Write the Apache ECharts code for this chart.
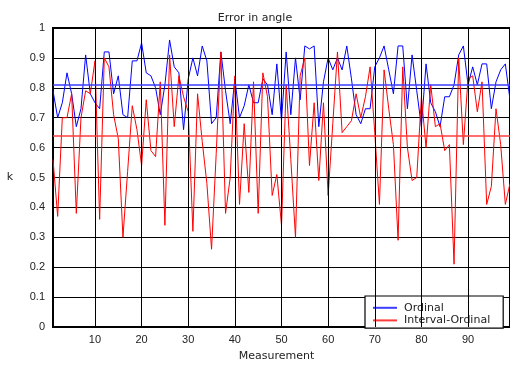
<!DOCTYPE html>
<html>
<head>
<meta charset="utf-8">
<script src="https://cdn.jsdelivr.net/npm/echarts@6/dist/echarts.min.js"></script>
<style>
html,body{margin:0;padding:0;background:#fff;}
#chart{width:510px;height:367px;}
</style>
</head>
<body>
<div id="chart"></div>
<script>
var titleText = "Error in angle";
var xName = "Measurement";
var yName = "k";
var seriesNames = ["Ordinal", "Interval-Ordinal"];
var xTickLabels = [10, 20, 30, 40, 50, 60, 70, 80, 90];

var ordinal = [
 0.79,0.70,0.75,0.85,0.78,0.67,0.73,0.91,0.78,0.75,
 0.73,0.92,0.92,0.78,0.84,0.71,0.70,0.89,0.89,0.95,
 0.85,0.84,0.80,0.71,0.81,0.96,0.87,0.85,0.66,0.83,
 0.90,0.84,0.94,0.89,0.68,0.70,0.92,0.79,0.68,0.83,
 0.70,0.74,0.81,0.75,0.75,0.83,0.81,0.71,0.88,0.69,
 0.92,0.71,0.90,0.76,0.94,0.93,0.94,0.67,0.82,0.90,
 0.86,0.90,0.86,0.94,0.83,0.71,0.68,0.73,0.73,0.87,
 0.90,0.94,0.86,0.78,0.94,0.94,0.73,0.91,0.79,0.67,
 0.88,0.75,0.72,0.67,0.77,0.77,0.81,0.91,0.94,0.81,
 0.87,0.81,0.88,0.88,0.73,0.82,0.86,0.88,0.76
];
var intervalOrdinal = [
 0.56,0.37,0.70,0.70,0.78,0.38,0.70,0.79,0.78,0.89,
 0.36,0.90,0.87,0.71,0.63,0.30,0.52,0.74,0.66,0.54,
 0.76,0.59,0.57,0.82,0.34,0.91,0.67,0.84,0.77,0.72,
 0.32,0.78,0.62,0.48,0.26,0.58,0.92,0.38,0.50,0.84,
 0.41,0.68,0.45,0.82,0.38,0.85,0.77,0.44,0.51,0.34,
 0.81,0.56,0.30,0.84,0.90,0.54,0.75,0.49,0.75,0.44,
 0.68,0.92,0.65,0.67,0.69,0.78,0.70,0.77,0.87,0.65,
 0.41,0.86,0.73,0.61,0.29,0.87,0.60,0.49,0.50,0.77,
 0.60,0.81,0.67,0.68,0.59,0.61,0.21,0.90,0.61,0.83,
 0.84,0.72,0.82,0.41,0.47,0.73,0.61,0.41,0.48
];
var ordinalMean = 0.814;
var intervalOrdinalMean = 0.640;

function pairs(arr){ return arr.map(function(v,i){ return [i+1, v]; }); }

var numFont = "'Liberation Sans', Arial, sans-serif";
var txtFont = "'DejaVu Sans', Verdana, sans-serif";
var chart = echarts.init(document.getElementById('chart'), null, {renderer:'canvas'});
chart.setOption({
  animation:false,
  backgroundColor:'#fff',
  title:{
    text:titleText, left:'center', top:8,
    textStyle:{fontFamily:txtFont, fontSize:11, fontWeight:'normal', color:'#222'}
  },
  grid:{
    left:53, top:28, width:460, height:305,
    show:true, borderColor:'#000', borderWidth:2, backgroundColor:'#fff'
  },
  legend:{
    orient:'vertical', left:365, top:296,
    backgroundColor:'#fff', borderColor:'#000', borderWidth:1.2, borderRadius:0,
    padding:[6,13,2,8], itemWidth:24, itemHeight:2, itemGap:1,
    icon:'rect',
    textStyle:{fontFamily:txtFont, fontSize:11, color:'#222', lineHeight:11.6, padding:[0,0,0,2]},
    data:[
      {name:seriesNames[0], itemStyle:{color:'#3c3cff'}},
      {name:seriesNames[1], itemStyle:{color:'#ff3c3c'}}
    ]
  },
  xAxis:{
    type:'value', min:1, max:99,
    name:xName, nameLocation:'middle', nameGap:24,
    nameTextStyle:{fontFamily:txtFont, fontSize:11, color:'#222', padding:[0,10,0,0]},
    axisLine:{show:true, onZero:false, lineStyle:{color:'#000', width:2}},
    axisTick:{show:false},
    splitLine:{show:false},
    axisLabel:{customValues:xTickLabels, margin:7, fontFamily:numFont, fontSize:11, color:'#222'}
  },
  yAxis:{
    type:'value', min:0, max:1, interval:0.1,
    name:yName, nameLocation:'middle', nameGap:40, nameRotate:0,
    nameTextStyle:{fontFamily:txtFont, fontSize:11, color:'#222'},
    axisLine:{show:true, lineStyle:{color:'#000', width:2}},
    axisTick:{show:false},
    splitLine:{show:true, lineStyle:{color:'#000', width:1}},
    axisLabel:{margin:8, fontFamily:numFont, fontSize:11, color:'#222',
      formatter:function(v){ return String(Math.round(v*10)/10); }}
  },
  series:[
    {
      name:'grid-v', type:'line', data:[], silent:true, z:1,
      markLine:{
        silent:true, symbol:'none', label:{show:false},
        lineStyle:{color:'#000', width:1, type:'solid'},
        data:xTickLabels.map(function(v){ return {xAxis:v}; })
      }
    },
    {
      name:seriesNames[0], type:'line', data:pairs(ordinal), symbol:'none', z:3,
      lineStyle:{color:'#0000ff', width:1}, itemStyle:{color:'#0000ff'},
      markLine:{
        silent:true, symbol:'none', label:{show:false},
        lineStyle:{color:'rgba(60,60,255,0.75)', width:2, type:'solid'},
        data:[{yAxis:ordinalMean}]
      }
    },
    {
      name:seriesNames[1], type:'line', data:pairs(intervalOrdinal), symbol:'none', z:3,
      lineStyle:{color:'#ff0000', width:1}, itemStyle:{color:'#ff0000'},
      markLine:{
        silent:true, symbol:'none', label:{show:false},
        lineStyle:{color:'rgba(255,60,60,0.75)', width:2, type:'solid'},
        data:[{yAxis:intervalOrdinalMean}]
      }
    }
  ]
});
</script>
</body>
</html>
